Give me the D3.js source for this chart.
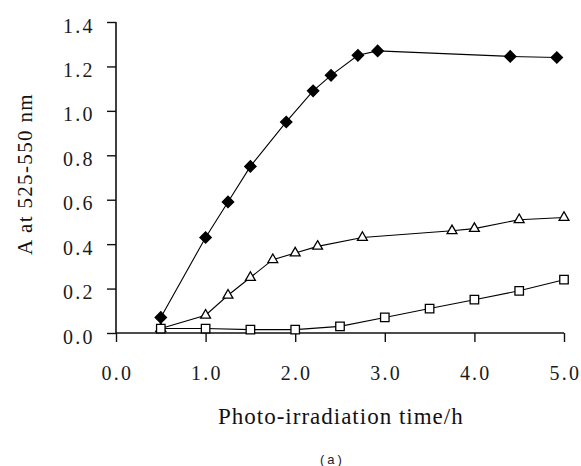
<!DOCTYPE html>
<html>
<head>
<meta charset="utf-8">
<script src="https://cdn.jsdelivr.net/npm/d3@7"></script>
<style>
  body { margin: 0; background: #fff; }
  svg { display: block; }
</style>
</head>
<body>
<script>
// series (time in h, absorbance)
var diamondTime = [0.5, 1.0, 1.25, 1.5, 1.9, 2.2, 2.4, 2.7, 2.92, 4.4, 4.92];
var diamondA = [0.07, 0.43, 0.59, 0.75, 0.95, 1.09, 1.16, 1.25, 1.27, 1.245, 1.24];

var triangleTime = [0.5, 1.0, 1.25, 1.5, 1.75, 2.0, 2.25, 2.75, 3.75, 4.0, 4.5, 5.0];
var triangleA = [0.02, 0.08, 0.17, 0.25, 0.33, 0.36, 0.39, 0.43, 0.46, 0.47, 0.51, 0.52];

var squareTime = [0.5, 1.0, 1.5, 2.0, 2.5, 3.0, 3.5, 4.0, 4.5, 5.0];
var squareA = [0.02, 0.02, 0.015, 0.015, 0.03, 0.07, 0.11, 0.15, 0.19, 0.24];

var xTicks = [0, 1, 2, 3, 4, 5];
var yTicks = [0, 0.2, 0.4, 0.6, 0.8, 1.0, 1.2, 1.4];

var xTitle = "Photo-irradiation time/h";
var yTitle = "A at 525-550 nm";
var caption = "(a)";

var svg = d3.select("body")
  .append("svg")
    .attr("width", 581)
    .attr("height", 466);

var x = d3.scaleLinear().domain([0, 5]).range([116, 564]);
var y = d3.scaleLinear().domain([0, 1.4]).range([333, 22]);

// axes
var xAxis = svg.append("g")
  .attr("transform", "translate(0,333)")
  .call(d3.axisBottom(x).tickValues(xTicks).tickSize(9).tickFormat(d3.format(".1f")));
var yAxis = svg.append("g")
  .attr("transform", "translate(116,0)")
  .call(d3.axisLeft(y).tickValues(yTicks).tickSize(9).tickFormat(d3.format(".1f")));

[xAxis, yAxis].forEach(a => {
  a.attr("font-family", "Liberation Serif").attr("font-size", 20);
  a.select(".domain").attr("stroke", "#111").attr("stroke-width", 1.6);
  a.selectAll(".tick line").attr("stroke", "#111").attr("stroke-width", 1.4);
  a.selectAll("text")
    .attr("letter-spacing", 2.2)
    .attr("fill", "#1a1a1a");
});
xAxis.select(".domain").attr("d", "M116,0H564");
yAxis.select(".domain").attr("d", "M0,22V333");
xAxis.selectAll("text").attr("y", 47).attr("dy", null)
  .attr("x", -15).attr("text-anchor", "start");
yAxis.selectAll("text").attr("x", -53).attr("dy", null).attr("y", 10)
  .attr("text-anchor", "start");

// titles
svg.append("text")
  .attr("x", 218)
  .attr("y", 424)
  .attr("font-family", "Liberation Serif")
  .attr("font-size", 23)
  .attr("letter-spacing", 1)
  .attr("fill", "#111")
  .text(xTitle);

svg.append("text")
  .attr("transform", "translate(32,255) rotate(-90)")
  .attr("font-family", "Liberation Serif")
  .attr("font-size", 21)
  .attr("letter-spacing", 1.35)
  .attr("fill", "#111")
  .text(yTitle);

svg.append("text")
  .attr("x", 320)
  .attr("y", 464)
  .attr("font-family", "Liberation Sans")
  .attr("font-size", 13)
  .attr("letter-spacing", 3)
  .attr("fill", "#222")
  .text(caption);

// series
var line = d3.line().x(d => x(d[0])).y(d => y(d[1]));

function drawSeries(times, vals, symbol, size, fill, rotate) {
  var pts = times.map((t, i) => [t, vals[i]]);
  svg.append("path")
    .datum(pts)
    .attr("fill", "none")
    .attr("stroke", "#000")
    .attr("stroke-width", 1.1)
    .attr("d", line);
  svg.append("g").selectAll("path")
    .data(pts)
    .enter().append("path")
      .attr("d", d3.symbol().type(symbol).size(size))
      .attr("transform", d => "translate(" + x(d[0]) + "," + y(d[1]) + ")" + (rotate ? " rotate(45)" : ""))
      .attr("fill", fill)
      .attr("stroke", "#000")
      .attr("stroke-width", 1.3);
}

drawSeries(diamondTime, diamondA, d3.symbolSquare, 64, "#000", true);
drawSeries(triangleTime, triangleA, d3.symbolTriangle, 42, "#fff", false);
drawSeries(squareTime, squareA, d3.symbolSquare, 72, "#fff", false);
</script>
</body>
</html>
